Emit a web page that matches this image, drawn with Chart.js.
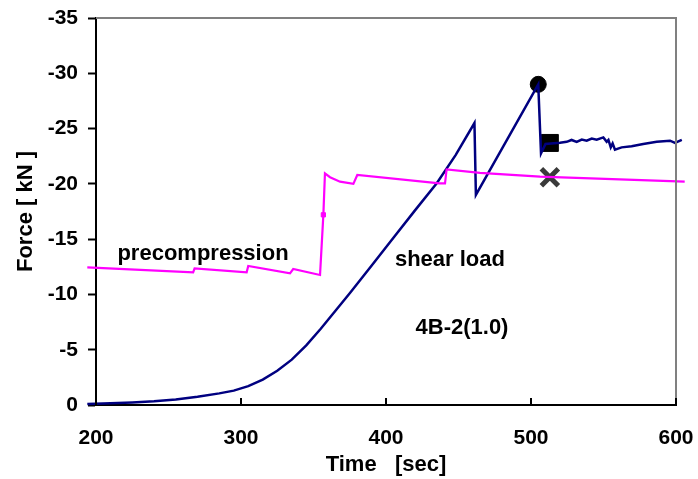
<!DOCTYPE html>
<html>
<head>
<meta charset="utf-8">
<script src="https://cdn.jsdelivr.net/npm/chart.js@4.4.1/dist/chart.umd.min.js"></script>
<style>
  html, body { margin: 0; padding: 0; background: #ffffff; }
  #wrap { width: 698px; height: 479px; position: relative; }
</style>
</head>
<body>
<div id="wrap"><canvas id="c" width="698" height="479"></canvas></div>
<script>
// ---- data ----
const shearTime  = [194, 210, 225, 240, 255, 270, 285, 295, 305, 315, 325, 335, 345, 355, 365, 375, 390, 405, 420, 435, 448, 461, 462, 505, 506.9, 510, 520, 524.6, 528, 531.5, 535, 538.4, 541.9, 545.3, 549.9, 552.2, 553.4, 555, 556.3, 557.9, 562.5, 569.4, 577.4, 586.7, 595.9, 599.3, 604, 606.2];
const shearForce = [-0.1, -0.15, -0.22, -0.33, -0.5, -0.75, -1.05, -1.3, -1.7, -2.3, -3.1, -4.1, -5.4, -6.9, -8.5, -10.1, -12.6, -15.1, -17.6, -20.05, -22.6, -25.5, -19.0, -29.0, -22.76, -23.6, -23.72, -23.8, -23.97, -23.8, -24.0, -23.9, -24.1, -24.0, -24.2, -23.8, -23.97, -23.3, -23.66, -23.1, -23.3, -23.4, -23.6, -23.8, -23.9, -23.7, -23.97, -23.9];

const preTime  = [194, 267, 268, 303.9, 305, 333.8, 336, 354.5, 356.8, 357.9, 361.4, 368.3, 377.5, 380.2, 437, 440.7, 441.8, 464.8, 506.2, 606];
const preForce = [-12.45, -12.0, -12.36, -12.0, -12.57, -11.9, -12.3, -11.76, -17.2, -20.95, -20.6, -20.2, -20.0, -20.8, -20.05, -20.05, -21.3, -21.0, -20.65, -20.2];
const preMarkIndex = 8; // small square marker on the vertical rise

const peakPoint   = {x: 505, y: -29.0};   // black circle
const squarePoint = {x: 513, y: -23.7};   // black square
const crossPoint  = {x: 513, y: -20.6};   // grey cross

const xTicks = [200, 300, 400, 500, 600];
const yTicks = [-35, -30, -25, -20, -15, -10, -5, 0];

const notes = [
  {text: 'precompression', x: 273.8, y: -13.66},
  {text: 'shear load',     x: 444.1, y: -13.1},
  {text: '4B-2(1.0)',      x: 452.4, y: -6.96}
];

// ---- build ----
const FONT = '"Liberation Sans", Arial, sans-serif';
const shearData = shearTime.map((t, i) => ({x: t, y: shearForce[i]}));
const preData = preTime.map((t, i) => ({x: t, y: preForce[i]}));
const preRadius = preTime.map((t, i) => i === preMarkIndex ? 3 : 0);

function zeroPad(s) { s.paddingLeft = 0; s.paddingRight = 0; s.paddingTop = 0; s.paddingBottom = 0; }

const framePlugin = {
  id: 'frame',
  afterDatasetsDraw(chart) {
    const {ctx, chartArea: a, scales} = chart;
    ctx.save();
    ctx.strokeStyle = '#808080';
    ctx.lineWidth = 2;
    ctx.beginPath();
    ctx.moveTo(a.left, a.top);
    ctx.lineTo(a.right, a.top);
    ctx.lineTo(a.right, a.bottom);
    ctx.stroke();
    ctx.strokeStyle = '#000';
    ctx.lineWidth = 2;
    xTicks.forEach(v => {
      const px = scales.x.getPixelForValue(v);
      ctx.beginPath();
      ctx.moveTo(px, a.bottom);
      ctx.lineTo(px, a.bottom - 7);
      ctx.stroke();
    });
    ctx.fillStyle = '#000';
    ctx.font = 'bold 22px ' + FONT;
    ctx.textAlign = 'center';
    ctx.textBaseline = 'middle';
    notes.forEach(n => {
      ctx.fillText(n.text, scales.x.getPixelForValue(n.x), scales.y.getPixelForValue(n.y));
    });
    ctx.restore();
  }
};

new Chart(document.getElementById('c'), {
  type: 'scatter',
  data: {
    datasets: [
      {
        data: preData, showLine: true, borderColor: '#FF00FF', borderWidth: 2.2,
        pointRadius: preRadius, pointStyle: 'rect', pointBackgroundColor: '#FF00FF',
        pointBorderColor: '#FF00FF', pointBorderWidth: 1, clip: false, tension: 0
      },
      {
        data: shearData, showLine: true, borderColor: '#000080', borderWidth: 2.5,
        pointRadius: 0, clip: false, tension: 0
      },
      {
        data: [peakPoint], pointStyle: 'circle', pointRadius: 8,
        pointBackgroundColor: '#000', pointBorderColor: '#000', clip: false
      },
      {
        data: [squarePoint], pointStyle: 'rect', pointRadius: 12,
        pointBackgroundColor: '#000', pointBorderColor: '#000', clip: false
      },
      {
        data: [crossPoint], pointStyle: 'crossRot', pointRadius: 12,
        pointBorderColor: '#3a3a3a', pointBorderWidth: 5, clip: false
      }
    ]
  },
  options: {
    responsive: false,
    animation: false,
    devicePixelRatio: 1,
    layout: { padding: {top: 18, right: 22, left: 0, bottom: 0} },
    plugins: { legend: {display: false}, tooltip: {enabled: false} },
    scales: {
      x: {
        type: 'linear', min: 200, max: 600,
        afterBuildTicks(s) { s.ticks = xTicks.map(v => ({value: v})); },
        afterFit(s) { s.height = 74; zeroPad(s); },
        ticks: { color: '#000', font: {family: FONT, size: 21, weight: 'bold'}, padding: 21, maxRotation: 0 },
        grid: { display: true, drawOnChartArea: false, drawTicks: false },
        border: { display: true, color: '#000', width: 2 },
        title: { display: true, text: 'Time   [sec]', color: '#000',
                 font: {family: FONT, size: 22, weight: 'bold'}, padding: {top: 0, bottom: 1} }
      },
      y: {
        type: 'linear', min: -35, max: 0, reverse: true,
        afterBuildTicks(s) { s.ticks = yTicks.map(v => ({value: v})); },
        afterFit(s) { s.width = 96; zeroPad(s); },
        ticks: { color: '#000', font: {family: FONT, size: 21, weight: 'bold'}, padding: 10 },
        grid: { display: true, drawOnChartArea: false, drawTicks: true, tickLength: 8, tickWidth: 2, tickColor: '#000' },
        border: { display: true, color: '#000', width: 2 },
        title: { display: true, text: 'Force [ kN ]', color: '#000',
                 font: {family: FONT, size: 22, weight: 'bold'}, padding: {top: 13, bottom: 0} }
      }
    }
  },
  plugins: [framePlugin]
});
</script>
</body>
</html>
